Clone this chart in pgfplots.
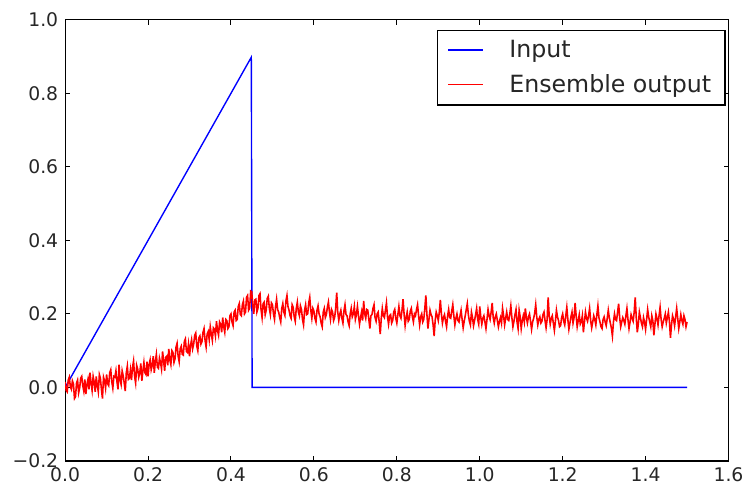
\documentclass[border=0pt]{standalone}
\usepackage{fontspec}
\setmainfont{DejaVu Sans}
\usepackage{pgfplots}
\pgfplotsset{compat=1.18}
\usepackage{pgfplotstable}
\pgfplotstableread{
x y
0.000 0.015
0.0025 -0.008
0.005 -0.012
0.0075 0.020
0.010 0.028
0.0125 0.002
0.015 -0.005
0.0175 0.018
0.020 0.010
0.0225 -0.030
0.025 -0.025
0.0275 0.012
0.030 0.020
0.0325 -0.015
0.035 -0.002
0.0375 0.025
0.040 0.030
0.0425 0.005
0.045 -0.010
0.0475 0.022
0.050 -0.018
0.0525 0.008
0.055 0.022
0.0575 -0.005
0.060 0.040
0.0625 0.012
0.065 -0.008
0.0675 0.030
0.070 0.015
0.0725 -0.012
0.075 0.030
0.0775 0.005
0.080 -0.012
0.0825 0.035
0.085 0.025
0.0875 -0.005
0.090 -0.030
0.0925 0.028
0.095 0.018
0.0975 -0.002
0.100 0.035
0.1025 0.010
0.105 0.005
0.1075 0.040
0.110 0.048
0.1125 0.015
0.115 -0.002
0.1175 0.030
0.120 0.028
0.1225 0.045
0.125 0.015
0.1275 -0.005
0.130 0.062
0.1325 0.020
0.135 0.008
0.1375 0.045
0.140 0.032
0.1425 0.012
0.145 -0.010
0.1475 0.040
0.150 0.058
0.1525 0.022
0.155 0.025
0.1575 0.048
0.160 0.020
0.1625 0.055
0.165 0.072
0.1675 0.030
0.170 0.012
0.1725 0.060
0.175 0.050
0.1775 0.028
0.180 0.040
0.1825 0.065
0.185 0.018
0.1875 0.045
0.190 0.068
0.1925 0.040
0.195 0.035
0.1975 0.070
0.200 0.030
0.2025 0.062
0.205 0.075
0.2075 0.048
0.210 0.060
0.2125 0.085
0.215 0.040
0.2175 0.070
0.220 0.090
0.2225 0.055
0.225 0.052
0.2275 0.080
0.230 0.068
0.2325 0.050
0.235 0.098
0.2375 0.072
0.240 0.045
0.2425 0.082
0.245 0.085
0.2475 0.060
0.250 0.105
0.2525 0.075
0.255 0.062
0.2575 0.100
0.260 0.095
0.2625 0.068
0.265 0.078
0.2675 0.110
0.270 0.120
0.2725 0.085
0.275 0.070
0.2775 0.105
0.280 0.112
0.2825 0.090
0.285 0.088
0.2875 0.125
0.290 0.132
0.2925 0.098
0.295 0.095
0.2975 0.118
0.300 0.085
0.3025 0.115
0.305 0.130
0.3075 0.105
0.310 0.118
0.3125 0.142
0.315 0.148
0.3175 0.112
0.320 0.100
0.3225 0.135
0.325 0.140
0.3275 0.118
0.330 0.125
0.3325 0.150
0.335 0.160
0.3375 0.128
0.340 0.110
0.3425 0.145
0.345 0.152
0.3475 0.130
0.350 0.165
0.3525 0.145
0.355 0.128
0.3575 0.162
0.360 0.158
0.3625 0.140
0.365 0.180
0.3675 0.155
0.370 0.142
0.3725 0.178
0.375 0.172
0.3775 0.150
0.380 0.190
0.3825 0.165
0.385 0.150
0.3875 0.185
0.390 0.182
0.3925 0.160
0.395 0.165
0.3975 0.195
0.400 0.200
0.4025 0.178
0.405 0.168
0.4075 0.205
0.410 0.210
0.4125 0.182
0.415 0.185
0.4175 0.220
0.420 0.228
0.4225 0.198
0.425 0.195
0.4275 0.225
0.430 0.235
0.4325 0.200
0.435 0.205
0.4375 0.245
0.440 0.250
0.4425 0.210
0.445 0.215
0.4475 0.262
0.450 0.260
0.4525 0.225
0.455 0.200
0.4575 0.238
0.460 0.240
0.4625 0.205
0.465 0.215
0.4675 0.250
0.470 0.255
0.4725 0.212
0.475 0.190
0.4775 0.228
0.480 0.232
0.4825 0.198
0.485 0.210
0.4875 0.242
0.490 0.248
0.4925 0.215
0.495 0.198
0.4975 0.230
0.500 0.225
0.5025 0.200
0.505 0.185
0.5075 0.220
0.510 0.240
0.5125 0.212
0.515 0.205
0.5175 0.190
0.520 0.178
0.5225 0.215
0.525 0.228
0.5275 0.205
0.530 0.196
0.5325 0.235
0.535 0.250
0.5375 0.220
0.540 0.210
0.5425 0.195
0.545 0.188
0.5475 0.225
0.550 0.218
0.5525 0.192
0.555 0.180
0.5575 0.215
0.560 0.232
0.5625 0.205
0.565 0.195
0.5675 0.222
0.570 0.212
0.5725 0.185
0.575 0.170
0.5775 0.210
0.580 0.225
0.5825 0.198
0.585 0.200
0.5875 0.230
0.590 0.245
0.5925 0.210
0.595 0.188
0.5975 0.215
0.600 0.208
0.6025 0.188
0.605 0.178
0.6075 0.210
0.610 0.222
0.6125 0.200
0.615 0.192
0.6175 0.175
0.620 0.165
0.6225 0.205
0.625 0.215
0.6275 0.190
0.630 0.198
0.6325 0.218
0.635 0.232
0.6375 0.205
0.640 0.185
0.6425 0.212
0.645 0.205
0.6475 0.182
0.650 0.190
0.6525 0.215
0.655 0.258
0.6575 0.205
0.660 0.182
0.6625 0.200
0.665 0.210
0.6675 0.188
0.670 0.175
0.6725 0.208
0.675 0.225
0.6775 0.198
0.680 0.195
0.6825 0.178
0.685 0.168
0.6875 0.200
0.690 0.215
0.6925 0.192
0.695 0.200
0.6975 0.220
0.700 0.185
0.7025 0.198
0.705 0.220
0.7075 0.195
0.710 0.172
0.7125 0.190
0.715 0.205
0.7175 0.182
0.720 0.235
0.7225 0.200
0.725 0.188
0.7275 0.212
0.730 0.210
0.7325 0.185
0.735 0.160
0.7375 0.195
0.740 0.198
0.7425 0.215
0.745 0.225
0.7475 0.190
0.750 0.180
0.7525 0.200
0.755 0.205
0.7575 0.178
0.760 0.145
0.7625 0.188
0.765 0.215
0.7675 0.195
0.770 0.190
0.7725 0.210
0.775 0.230
0.7775 0.192
0.780 0.172
0.7825 0.195
0.785 0.198
0.7875 0.175
0.790 0.182
0.7925 0.205
0.795 0.212
0.7975 0.188
0.800 0.175
0.8025 0.198
0.805 0.220
0.8075 0.195
0.810 0.188
0.8125 0.210
0.815 0.240
0.8175 0.200
0.820 0.168
0.8225 0.190
0.825 0.205
0.8275 0.180
0.830 0.185
0.8325 0.208
0.835 0.215
0.8375 0.192
0.840 0.178
0.8425 0.200
0.845 0.195
0.8475 0.212
0.850 0.225
0.8525 0.195
0.855 0.170
0.8575 0.192
0.860 0.200
0.8625 0.178
0.865 0.185
0.8675 0.215
0.870 0.250
0.8725 0.200
0.875 0.160
0.8775 0.185
0.880 0.210
0.8825 0.198
0.885 0.192
0.8875 0.170
0.890 0.140
0.8925 0.182
0.895 0.205
0.8975 0.195
0.900 0.182
0.9025 0.205
0.905 0.238
0.9075 0.200
0.910 0.175
0.9125 0.190
0.915 0.198
0.9175 0.180
0.920 0.165
0.9225 0.195
0.925 0.212
0.9275 0.190
0.930 0.188
0.9325 0.208
0.935 0.225
0.9375 0.195
0.940 0.170
0.9425 0.188
0.945 0.200
0.9475 0.182
0.950 0.178
0.9525 0.195
0.955 0.210
0.9575 0.185
0.960 0.162
0.9625 0.180
0.965 0.195
0.9675 0.212
0.970 0.228
0.9725 0.198
0.975 0.180
0.9775 0.170
0.980 0.205
0.9825 0.190
0.985 0.168
0.9875 0.182
0.990 0.198
0.9925 0.215
0.995 0.185
0.9975 0.172
1.000 0.220
1.0025 0.192
1.005 0.172
1.0075 0.188
1.010 0.195
1.0125 0.178
1.015 0.160
1.0175 0.185
1.020 0.212
1.0225 0.195
1.025 0.185
1.0275 0.205
1.030 0.230
1.0325 0.190
1.035 0.175
1.0375 0.192
1.040 0.200
1.0425 0.182
1.045 0.165
1.0475 0.180
1.050 0.190
1.0525 0.175
1.055 0.215
1.0575 0.195
1.060 0.170
1.0625 0.188
1.065 0.205
1.0675 0.185
1.070 0.182
1.0725 0.200
1.075 0.222
1.0775 0.190
1.080 0.165
1.0825 0.180
1.085 0.198
1.0875 0.212
1.090 0.178
1.0925 0.160
1.095 0.210
1.0975 0.192
1.100 0.160
1.1025 0.182
1.105 0.195
1.1075 0.178
1.110 0.215
1.1125 0.190
1.115 0.175
1.1175 0.192
1.120 0.200
1.1225 0.180
1.125 0.158
1.1275 0.178
1.130 0.188
1.1325 0.202
1.135 0.225
1.1375 0.192
1.140 0.170
1.1425 0.185
1.145 0.192
1.1475 0.175
1.150 0.180
1.1525 0.198
1.155 0.205
1.1575 0.182
1.160 0.162
1.1625 0.185
1.165 0.245
1.1675 0.195
1.170 0.172
1.1725 0.188
1.175 0.195
1.1775 0.175
1.180 0.155
1.1825 0.180
1.185 0.210
1.1875 0.192
1.190 0.182
1.1925 0.165
1.195 0.168
1.1975 0.190
1.200 0.200
1.2025 0.180
1.205 0.170
1.2075 0.195
1.210 0.218
1.2125 0.185
1.215 0.158
1.2175 0.175
1.220 0.192
1.2225 0.205
1.225 0.175
1.2275 0.190
1.230 0.230
1.2325 0.195
1.235 0.165
1.2375 0.182
1.240 0.198
1.2425 0.172
1.245 0.178
1.2475 0.195
1.250 0.150
1.2525 0.178
1.255 0.205
1.2575 0.188
1.260 0.180
1.2625 0.195
1.265 0.215
1.2675 0.182
1.270 0.162
1.2725 0.178
1.275 0.195
1.2775 0.185
1.280 0.170
1.2825 0.198
1.285 0.222
1.2875 0.190
1.290 0.178
1.2925 0.165
1.295 0.160
1.2975 0.185
1.300 0.192
1.3025 0.178
1.305 0.168
1.3075 0.188
1.310 0.210
1.3125 0.190
1.315 0.175
1.3175 0.162
1.320 0.140
1.3225 0.178
1.325 0.200
1.3275 0.185
1.330 0.182
1.3325 0.205
1.335 0.228
1.3375 0.190
1.340 0.165
1.3425 0.178
1.345 0.190
1.3475 0.182
1.350 0.172
1.3525 0.195
1.355 0.215
1.3575 0.185
1.360 0.160
1.3625 0.178
1.365 0.198
1.3675 0.188
1.370 0.180
1.3725 0.205
1.375 0.245
1.3775 0.190
1.380 0.150
1.3825 0.172
1.385 0.205
1.3875 0.190
1.390 0.175
1.3925 0.165
1.395 0.190
1.3975 0.178
1.400 0.158
1.4025 0.185
1.405 0.212
1.4075 0.192
1.410 0.178
1.4125 0.165
1.415 0.195
1.4175 0.182
1.420 0.142
1.4225 0.172
1.425 0.200
1.4275 0.188
1.430 0.170
1.4325 0.195
1.435 0.218
1.4375 0.185
1.440 0.165
1.4425 0.178
1.445 0.188
1.4475 0.200
1.450 0.175
1.4525 0.190
1.455 0.205
1.4575 0.180
1.460 0.135
1.4625 0.170
1.465 0.195
1.4675 0.185
1.470 0.168
1.4725 0.192
1.475 0.215
1.4775 0.188
1.480 0.160
1.4825 0.178
1.485 0.198
1.4875 0.182
1.490 0.172
1.4925 0.195
1.495 0.185
1.4975 0.165
1.500 0.178
}\outputdata
\begin{document}
\begin{tikzpicture}
\begin{axis}[
  scale only axis,
  width=336pt, height=223.5pt,
  xmin=0, xmax=1.6, ymin=-0.2, ymax=1.0,
  xtick={0,0.2,0.4,0.6,0.8,1.0,1.2,1.4,1.6},
  xticklabels={0.0,0.2,0.4,0.6,0.8,1.0,1.2,1.4,1.6},
  ytick={-0.2,0,0.2,0.4,0.6,0.8,1.0},
  yticklabels={−0.2,0.0,0.2,0.4,0.6,0.8,1.0},
  tick align=inside,
  xtick pos=both, ytick pos=both,
  major tick length=2.5pt,
  tick style={black, line width=0.5pt},
  axis line style={black, line width=0.6pt},
  every tick label/.append style={font=\fontsize{9.5}{11}\selectfont, text=black!85},
  legend style={at={(1,1)}, xshift=-1.5pt, yshift=-5pt, anchor=north east,
    draw=black, line width=0.6pt,
    font=\fontsize{12}{14}\selectfont, inner xsep=5pt, inner ysep=3pt, row sep=3pt,
    text=black!85, cells={anchor=west}},
  legend image code/.code={\draw[#1] (0pt,0pt) -- (17.5pt,0pt); \path (28.5pt,0pt);},
]
\addplot[blue, line width=0.7pt] coordinates {(0,0) (0.449,0.898) (0.451,0) (1.5,0)};
\addlegendentry{Input}
\addplot[red, line width=0.8pt] table[x=x, y=y] {\outputdata};
\addlegendentry{Ensemble output}
\end{axis}
\path (current axis.south west) ++(-33pt,-13.5pt);
\path (current axis.north east) ++(6pt,10pt);
\end{tikzpicture}
\end{document}
